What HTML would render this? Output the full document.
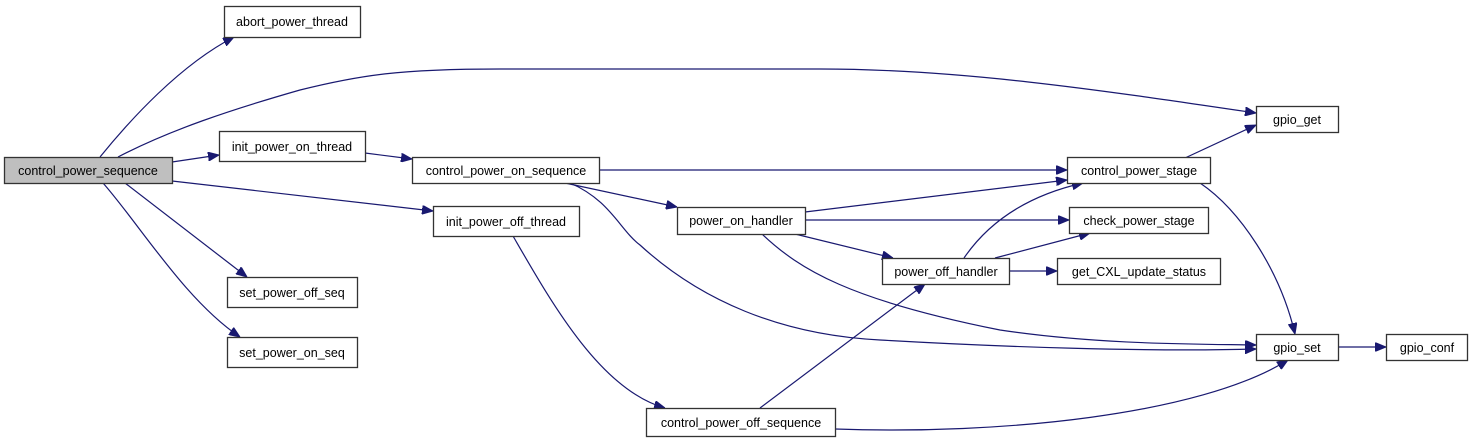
<!DOCTYPE html>
<html><head><meta charset="utf-8"><style>
html,body{margin:0;padding:0;background:#fff;}
svg{display:block;}
text{font-family:"Liberation Sans",Arial,sans-serif;font-size:12.5px;fill:#000;}
</style></head><body>
<svg width="1471" height="443" viewBox="0 0 1471 443" xmlns="http://www.w3.org/2000/svg">
<defs>
<marker id="a" markerWidth="11" markerHeight="9" refX="11" refY="4.5" orient="auto" markerUnits="userSpaceOnUse">
<path d="M0,0 L11,4.5 L0,9 Z" fill="#191970" stroke="#191970"/>
</marker>
</defs>
<g fill="none" stroke="#191970" stroke-width="1.2" marker-end="url(#a)">
<path d="M100,157 C130,120 180,65 234,37"/>
<path d="M118,157 C170,130 230,110 300,90 C360,75 400,69 500,69 L820,69 C960,69 1100,90 1256,113"/>
<path d="M172,162 L219,155"/>
<path d="M172,181 L433,211"/>
<path d="M125,183 L247,277"/>
<path d="M103,183 C140,225 185,300 240,337"/>
<path d="M365,153 L412,159"/>
<path d="M599,170 L1067,170"/>
<path d="M565,183 L677,207"/>
<path d="M570,183 C610,200 620,230 640,245 C700,300 780,335 880,340 C1000,347 1150,352 1256,349"/>
<path d="M513,236 C550,300 600,390 665,408"/>
<path d="M805,212 L1067,180"/>
<path d="M805,220 L1069,220"/>
<path d="M795,234 L893,258"/>
<path d="M762,234 C800,270 850,300 1000,330 C1100,345 1200,344 1256,345"/>
<path d="M964,258 C990,220 1030,195 1083,183"/>
<path d="M995,258 L1090,233"/>
<path d="M1009,271 L1057,271"/>
<path d="M1185,158 L1256,125"/>
<path d="M1200,183 C1240,210 1280,270 1295,334"/>
<path d="M1338,347 L1386,347"/>
<path d="M760,408 L925,284"/>
<path d="M835,429 C1000,435 1200,415 1288,360"/>
</g>
<g stroke="#333" stroke-width="1.3" fill="#fff">
<rect x="4.5" y="157.5" width="168" height="26" fill="#bfbfbf"/>
<rect x="224.5" y="6.5" width="136" height="31"/>
<rect x="219.5" y="131.5" width="146" height="30"/>
<rect x="227.5" y="277.5" width="130" height="30"/>
<rect x="227.5" y="337.5" width="130" height="30"/>
<rect x="412.5" y="157.5" width="187" height="26"/>
<rect x="433.5" y="206.5" width="146" height="30"/>
<rect x="646.5" y="408.5" width="189" height="28"/>
<rect x="677.5" y="207.5" width="128" height="27"/>
<rect x="882.5" y="258.5" width="127" height="26"/>
<rect x="1067.5" y="157.5" width="143" height="26"/>
<rect x="1069.5" y="207.5" width="139" height="26"/>
<rect x="1057.5" y="258.5" width="163" height="26"/>
<rect x="1256.5" y="106.5" width="82" height="26"/>
<rect x="1256.5" y="334.5" width="82" height="26"/>
<rect x="1386.5" y="334.5" width="81" height="26"/>
</g>
<g text-anchor="middle">
<text x="88" y="175">control_power_sequence</text>
<text x="292" y="26">abort_power_thread</text>
<text x="292" y="151">init_power_on_thread</text>
<text x="292" y="297">set_power_off_seq</text>
<text x="292" y="357">set_power_on_seq</text>
<text x="506" y="175">control_power_on_sequence</text>
<text x="506" y="226">init_power_off_thread</text>
<text x="741" y="427">control_power_off_sequence</text>
<text x="741" y="225">power_on_handler</text>
<text x="946" y="276">power_off_handler</text>
<text x="1139" y="175">control_power_stage</text>
<text x="1139" y="225">check_power_stage</text>
<text x="1139" y="276">get_CXL_update_status</text>
<text x="1297" y="124">gpio_get</text>
<text x="1297" y="352">gpio_set</text>
<text x="1427" y="352">gpio_conf</text>
</g>
</svg>
</body></html>
